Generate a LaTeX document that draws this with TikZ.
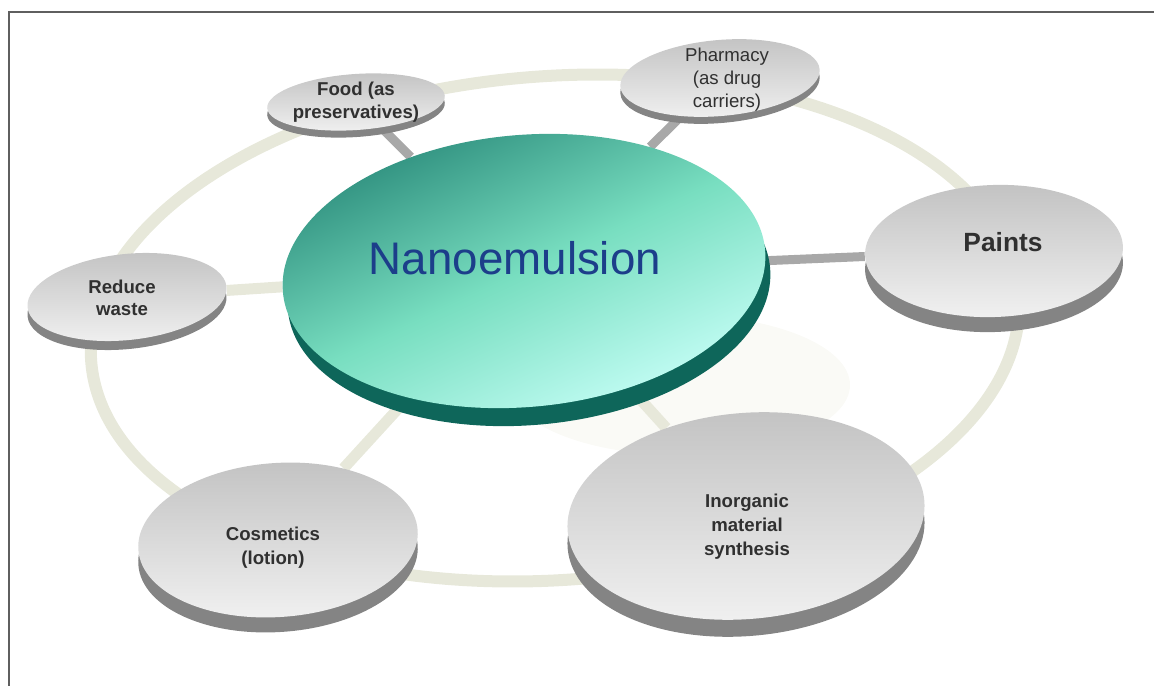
\documentclass[tikz,border=0pt]{standalone}
\usepackage{fontspec}
\setmainfont{Liberation Sans}
\usetikzlibrary
  {
    backgrounds,
    shapes.geometric,
  }
\newcommand\pxu{0.02cm}
\definecolor{ringbeige}{RGB}{231,232,218}
\definecolor{spokegray}{RGB}{168,168,168}
\definecolor{rimgray}{RGB}{132,132,132}
\definecolor{facetop}{RGB}{194,194,194}
\definecolor{facebottom}{RGB}{241,241,241}
\definecolor{hubdark}{RGB}{42,138,122}
\definecolor{hubmid}{RGB}{120,222,192}
\definecolor{hublight}{RGB}{200,255,248}
\definecolor{hubrim}{RGB}{14,102,90}
\definecolor{labelgray}{RGB}{48,48,48}
\definecolor{titleblue}{RGB}{28,62,138}
\definecolor{framegray}{RGB}{95,95,95}
\definecolor{haze}{RGB}{250,250,246}
\tikzset
  {
    frame/.style={draw=framegray, line width=.04cm},
    ring/.style={draw=ringbeige, line width=.24cm},
    spoke/.style={draw=spokegray, line width=.18cm},
    pale spoke/.style={draw=ringbeige, line width=.22cm},
    disc/.style=
      {
        ellipse,
        inner sep=0pt,
        top color=facetop,
        bottom color=facebottom,
        preaction={fill=rimgray, transform canvas={yshift=-#1*\pxu}},
      },
    hub/.style=
      {
        ellipse,
        inner sep=0pt,
        top color=hubdark,
        bottom color=hublight,
        middle color=hubmid,
        shading angle=25,
        preaction={fill=hubrim, transform canvas={xshift=5*\pxu, yshift=-18*\pxu}},
      },
    disc text/.style={align=center, text=labelgray, inner sep=0pt},
    small label/.style={disc text, font=\fontsize{10.6}{12.8}\selectfont\bfseries},
    thin label/.style={disc text, font=\fontsize{10.6}{13}\selectfont},
    mid label/.style={disc text, font=\fontsize{10.6}{13.6}\selectfont\bfseries},
    big label/.style={disc text, font=\fontsize{15}{18}\selectfont\bfseries},
    title/.style={text=titleblue, inner sep=0pt, font=\fontsize{26}{30}\selectfont},
  }

\begin{document}
\begin{tikzpicture}[x=\pxu, y=-\pxu]
  \useasboundingbox (0,0) rectangle (1154,686);
  \draw[frame] (9,686) -- (9,12) -- (1154,12);

  \node[hub, rotate=5, minimum width=484*\pxu, minimum height=272*\pxu]
    (hub) at (524,271) {};
  \node[title] (title) at ([shift={(-9,-13)}]hub.center) {Nanoemulsion};

  \node[disc=7, rotate=4, minimum width=178*\pxu, minimum height=56*\pxu]
    (food) at (356,102) {};
  \node[disc=7, rotate=5, minimum width=200*\pxu, minimum height=76*\pxu]
    (pharmacy) at (720,78) {};
  \node[disc=15, rotate=2, minimum width=258*\pxu, minimum height=132*\pxu]
    (paints) at (994,251) {};
  \node[disc=9, rotate=6, minimum width=200*\pxu, minimum height=86*\pxu]
    (reduce) at (127,297) {};
  \node[disc=15, rotate=4, minimum width=280*\pxu, minimum height=154*\pxu]
    (cosmetics) at (278,540) {};
  \node[disc=17, rotate=5, minimum width=358*\pxu, minimum height=206*\pxu]
    (inorganic) at (746,516) {};

  \node[small label] (food text) at (food) {Food (as\\preservatives)};
  \node[thin label] (pharmacy text) at ([shift={(7,2)}]pharmacy.center)
    {Pharmacy\\(as drug\\carriers)};
  \node[big label] (paints text) at ([shift={(9,-9)}]paints.center) {Paints};
  \node[small label] (reduce text) at ([shift={(-5,1)}]reduce.center) {Reduce\\waste};
  \node[mid label] (cosmetics text) at ([shift={(-5,8)}]cosmetics.center)
    {Cosmetics\\(lotion)};
  \node[mid label] (inorganic text) at ([shift={(1,11)}]inorganic.center)
    {Inorganic\\material\\synthesis};

  \begin{scope}[on background layer]
    \draw[ring, rotate around={4:(555,328)}]
      (555,328) ellipse [x radius=465, y radius=252];
    \fill[haze] (680,385) ellipse [x radius=170, y radius=70];
    \draw[spoke] (hub) -- (food);
    \draw[spoke] (hub) -- (pharmacy);
    \draw[spoke] (hub) -- (paints);
    \draw[pale spoke] (hub) -- (reduce);
    \draw[pale spoke] (hub) -- (cosmetics);
    \draw[pale spoke] (hub) -- (inorganic);
  \end{scope}
\end{tikzpicture}
\end{document}
